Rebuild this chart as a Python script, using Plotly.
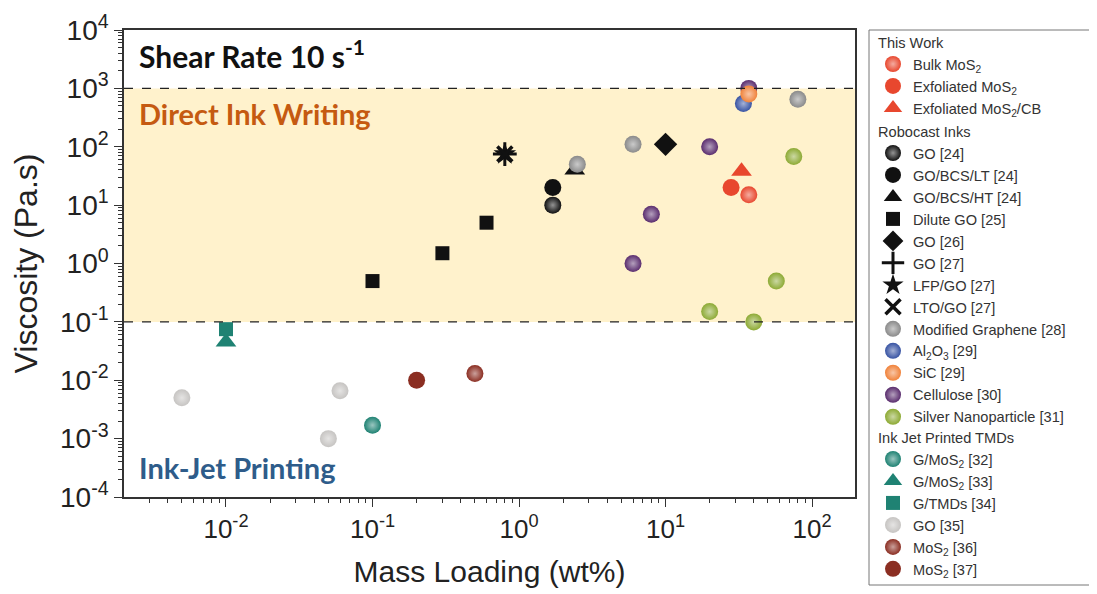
import plotly.graph_objects as go

# ---------------- data ----------------
bulk_mos2_x = [37]; bulk_mos2_y = [15]
exf_mos2_x = [28]; exf_mos2_y = [20]
exf_mos2_cb_x = [33]; exf_mos2_cb_y = [38]

go24_x = [1.7]; go24_y = [10]
go_bcs_lt_x = [1.7]; go_bcs_lt_y = [20]
go_bcs_ht_x = [2.4]; go_bcs_ht_y = [40]
dilute_go_x = [0.1, 0.3, 0.6]; dilute_go_y = [0.5, 1.5, 5]
go26_x = [10]; go26_y = [110]
go27_x = [0.8]; go27_y = [75]
lfp_go_x = [0.8]; lfp_go_y = [75]
lto_go_x = [0.8]; lto_go_y = [75]
mod_graphene_x = [2.5, 6, 80]; mod_graphene_y = [50, 110, 650]
al2o3_x = [34]; al2o3_y = [550]
sic_x = [37]; sic_y = [800]
cellulose_x = [37, 20, 8, 6]; cellulose_y = [1000, 100, 7, 1]
silver_x = [75, 57, 20, 40]; silver_y = [68, 0.5, 0.15, 0.1]

g_mos2_32_x = [0.1]; g_mos2_32_y = [0.0017]
g_mos2_33_x = [0.01]; g_mos2_33_y = [0.045]
g_tmds_34_x = [0.01]; g_tmds_34_y = [0.075]
go35_x = [0.005, 0.06, 0.05]; go35_y = [0.005, 0.0066, 0.001]
mos2_36_x = [0.5]; mos2_36_y = [0.013]
mos2_37_x = [0.2]; mos2_37_y = [0.01]

dir_band = [0.1, 1000]

y_tick_exp = [-4, -3, -2, -1, 0, 1, 2, 3, 4]
x_tick_exp = [-2, -1, 0, 1, 2]

# ---------------- styling helpers ----------------
RED = "#E8472E"; BLACK = "#111111"; GRAY = "#8A8A8A"; BLUE = "#3753A3"
ORANGE = "#F0823A"; PURPLE = "#5A2D6E"; GREEN = "#8DAA34"; TEAL = "#1F8273"
LGRAY = "#C6C4C2"; DRED = "#8B2E22"
FONT = "Arial, Liberation Sans"
LEG_SIZE = 14.6


def lighten(hexc, f):
    h = hexc.lstrip("#")
    r, g, b = int(h[0:2], 16), int(h[2:4], 16), int(h[4:6], 16)
    r = int(r + (255 - r) * f); g = int(g + (255 - g) * f); b = int(b + (255 - b) * f)
    return f"rgb({r},{g},{b})"


def sphere(color, size=17):
    return dict(symbol="circle", size=size, color=color, line=dict(width=0),
                gradient=dict(type="radial", color=lighten(color, 0.55)))


def solid(symbol, color, size=17, lw=0):
    return dict(symbol=symbol, size=size, color=color, line=dict(width=lw, color=color))


# (name, x, y, marker, legend id, group title, legend rank)
entries = [
    ("Cellulose [30]", cellulose_x, cellulose_y, sphere(PURPLE), "legend2", None, 14),
    ("Bulk MoS<sub>2</sub>", bulk_mos2_x, bulk_mos2_y, sphere(RED), "legend", "This Work", 1),
    ("Exfoliated MoS<sub>2</sub>", exf_mos2_x, exf_mos2_y, solid("circle", RED), "legend", None, 2),
    ("Exfoliated MoS<sub>2</sub>/CB", exf_mos2_cb_x, exf_mos2_cb_y, solid("triangle-up", RED, 18), "legend", None, 3),
    ("GO [24]", go24_x, go24_y, sphere(BLACK), "legend2", "Robocast Inks", 4),
    ("GO/BCS/LT [24]", go_bcs_lt_x, go_bcs_lt_y, solid("circle", BLACK), "legend2", None, 5),
    ("GO/BCS/HT [24]", go_bcs_ht_x, go_bcs_ht_y, solid("triangle-up", BLACK, 18), "legend2", None, 6),
    ("Dilute GO [25]", dilute_go_x, dilute_go_y, solid("square", BLACK, 14), "legend2", None, 7),
    ("GO [26]", go26_x, go26_y, solid("diamond", BLACK, 18), "legend2", None, 8),
    ("GO [27]", go27_x, go27_y, dict(symbol="cross-thin", size=17, color=BLACK, line=dict(width=3, color=BLACK)), "legend2", None, 9),
    ("LFP/GO [27]", lfp_go_x, lfp_go_y, solid("star", BLACK, 17), "legend2", None, 10),
    ("LTO/GO [27]", lto_go_x, lto_go_y, dict(symbol="x-thin", size=15, color=BLACK, line=dict(width=3.5, color=BLACK)), "legend2", None, 11),
    ("Modified Graphene [28]", mod_graphene_x, mod_graphene_y, sphere(GRAY), "legend2", None, 12),
    ("Al<sub>2</sub>O<sub>3</sub> [29]", al2o3_x, al2o3_y, sphere(BLUE), "legend2", None, 13),
    ("SiC [29]", sic_x, sic_y, sphere(ORANGE), "legend2", None, 13.5),
    ("Silver Nanoparticle [31]", silver_x, silver_y, sphere(GREEN), "legend2", None, 15),
    ("G/MoS<sub>2</sub> [32]", g_mos2_32_x, g_mos2_32_y, sphere(TEAL), "legend3", "Ink Jet Printed TMDs", 16),
    ("G/MoS<sub>2</sub> [33]", g_mos2_33_x, g_mos2_33_y, solid("triangle-up", TEAL, 18), "legend3", None, 17),
    ("G/TMDs [34]", g_tmds_34_x, g_tmds_34_y, solid("square", TEAL, 14), "legend3", None, 18),
    ("GO [35]", go35_x, go35_y, sphere(LGRAY), "legend3", None, 19),
    ("MoS<sub>2</sub> [36]", mos2_36_x, mos2_36_y, sphere(DRED), "legend3", None, 20),
    ("MoS<sub>2</sub> [37]", mos2_37_x, mos2_37_y, solid("circle", DRED), "legend3", None, 21),
]

fig = go.Figure()

# Direct-ink-writing band
fig.add_hrect(y0=dir_band[0], y1=dir_band[1], fillcolor="#FFF2CC", line_width=0, layer="below")
for yv in dir_band:
    fig.add_hline(y=yv, line=dict(color="#222222", width=1.3, dash="dash"))

for name, xs, ys, mk, leg, gtitle, rank in entries:
    kw = {}
    if gtitle:
        kw["legendgrouptitle"] = dict(text=gtitle, font=dict(size=LEG_SIZE, color="#333333", family=FONT))
    fig.add_trace(go.Scatter(x=xs, y=ys, mode="markers", name=name, marker=mk,
                             legend=leg, legendgroup=leg, legendrank=rank, **kw))

axis_common = dict(type="log", showgrid=False, zeroline=False, showline=True, automargin=False,
                   linecolor="#333333", linewidth=1.5, mirror=True,
                   ticks="outside", ticklen=8, tickwidth=1.3, tickcolor="#333333",
                   minor=dict(ticks="outside", ticklen=4, tickwidth=1, tickcolor="#333333",
                              dtick="D1", showgrid=False))

fig.update_xaxes(**axis_common, range=[-2.696, 2.293],
                 tickmode="array", tickvals=[10 ** e for e in x_tick_exp],
                 ticktext=[f"10<sup>{e}</sup>" for e in x_tick_exp],
                 tickfont=dict(size=26, color="#222222", family=FONT),
                 title=dict(text="Mass Loading (wt%)", standoff=18,
                            font=dict(size=30, color="#222222", family=FONT)))
fig.update_yaxes(**axis_common, range=[-4, 4],
                 tickmode="array", tickvals=[10 ** e for e in y_tick_exp],
                 ticktext=[f"10<sup>{e}</sup>" for e in y_tick_exp],
                 tickfont=dict(size=28, color="#222222", family=FONT),
                 title=dict(text="Viscosity (Pa.s)", standoff=13,
                            font=dict(size=32, color="#222222", family=FONT)))

fig.add_annotation(xref="paper", yref="paper", x=0.018, y=0.948, xanchor="left", yanchor="middle",
                   text="<b>Shear Rate 10 s<sup>-1</sup></b>", showarrow=False,
                   font=dict(size=30, color="#111111", family="Lato"))
fig.add_annotation(xref="paper", yref="paper", x=0.018, y=0.822, xanchor="left", yanchor="middle",
                   text="<b>Direct Ink Writing</b>", showarrow=False,
                   font=dict(size=29, color="#C55A11", family="Lato"))
fig.add_annotation(xref="paper", yref="paper", x=0.018, y=0.064, xanchor="left", yanchor="middle",
                   text="<b>Ink-Jet Printing</b>", showarrow=False,
                   font=dict(size=29, color="#2E5C8A", family="Lato"))

# one frame around the three stacked legends
PLOT_TOP, PLOT_BOT, PLOT_L, PLOT_W = 30, 497, 124, 731
def py(ypix):
    return (PLOT_BOT - ypix) / (PLOT_BOT - PLOT_TOP)
def px(xpix):
    return (xpix - PLOT_L) / PLOT_W

fig.add_shape(type="rect", xref="paper", yref="paper", x0=px(869), x1=px(1093),
              y0=py(585), y1=py(30), line=dict(color="#777777", width=1), fillcolor="rgba(0,0,0,0)")

leg_common = dict(xanchor="left", yanchor="top", traceorder="grouped", tracegroupgap=0,
                  borderwidth=0, bgcolor="rgba(0,0,0,0)",
                  font=dict(size=LEG_SIZE, color="#333333", family=FONT), itemsizing="trace")

# page body has an 8px margin: figure is sized/margined to compensate
fig.update_layout(
    width=1089, height=586,
    margin=dict(l=116, r=242, t=22, b=97, autoexpand=False),
    paper_bgcolor="white", plot_bgcolor="white",
    font=dict(family=FONT, color="#333333"),
    legend=dict(x=px(873), y=py(26), **leg_common),
    legend2=dict(x=px(873), y=py(115), **leg_common),
    legend3=dict(x=px(873), y=py(421), **leg_common),
    showlegend=True,
)

fig.write_html("out.html")
